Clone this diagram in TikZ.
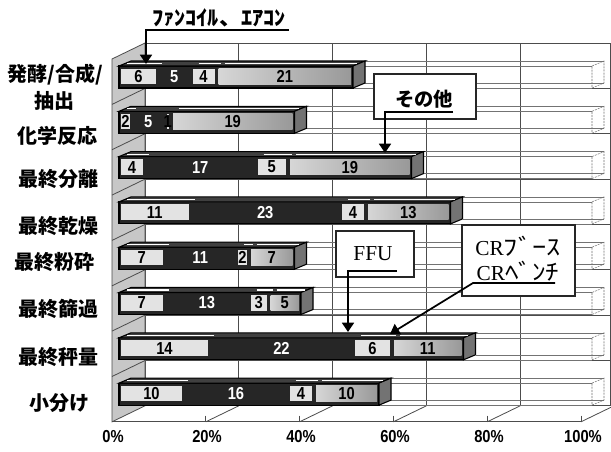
\documentclass[tikz,border=0pt]{standalone}
\usepackage{fontspec}
\usepackage{graphicx}
\usetikzlibrary{arrows.meta}
\newfontfamily\jpfont{Noto Sans CJK JP}
\newfontfamily\numfont{Liberation Sans}[FakeStretch=0.85]
\newfontfamily\serfont{Liberation Serif}

\tikzset{
  wallgrid/.style={draw=black!70, line width=0.6},
  sidewall/.style={draw=black!70, line width=0.6, fill=black!22},
  ghost/.style={draw=black!55, line width=0.4},
  ghostend/.style={draw=black!55, line width=0.4, dash pattern=on 1.5pt off 0.8pt},
  darkbar/.style={draw=black, line width=0.8, fill=black!85},
  darktop/.style={draw=black, line width=0.8, fill=black!75},
  darkside/.style={draw=black, line width=0.8, fill=black!55},
  litebox/.style={fill=black!11},
  restbox/.style={left color=black!16, right color=black!40},
  hilite/.style={draw=white, line width=0.8},
  numdark/.style={font=\numfont\bfseries\fontsize{13}{13}\selectfont, text=white, inner sep=0},
  numlite/.style={font=\numfont\bfseries\fontsize{13}{13}\selectfont, text=black, inner sep=0},
  rowlbl/.style={font=\jpfont\bfseries\fontsize{15}{18}\selectfont, inner sep=0},
  pctlbl/.style={font=\numfont\bfseries\fontsize{13}{13}\selectfont, inner sep=0},
  calltxt/.style={font=\jpfont\bfseries\fontsize{15.5}{17}\selectfont, inner sep=0},
  crtxt/.style={font=\serfont\fontsize{16}{19}\selectfont, inner sep=0, align=center},
  callbox/.style={draw=black!85, line width=1.1, fill=white},
  callline/.style={draw=black, line width=1.3},
  callarrow/.style={callline, -{Triangle[length=7pt,width=9pt]}},
}

\begin{document}
\begin{tikzpicture}[x=0.75pt,y=0.75pt,yscale=-1,xscale=1]
\useasboundingbox (0,0) rectangle (611,451);
\clip (0,0) rectangle (611,451);
\fill[white] (0,0) rectangle (611,451);

%Shape: Back wall grid
\draw[wallgrid] (145,43) -- (145,405.8);
\draw[wallgrid] (238.8,43) -- (238.8,405.8);
\draw[wallgrid] (332.6,43) -- (332.6,405.8);
\draw[wallgrid] (426.4,43) -- (426.4,405.8);
\draw[wallgrid] (520.2,43) -- (520.2,405.8);
\draw[wallgrid] (610,43) -- (610,405.8);
\draw[wallgrid] (145,43) -- (611,43);
\draw[wallgrid] (145,88.4) -- (611,88.4);
\draw[wallgrid] (145,133.7) -- (611,133.7);
\draw[wallgrid] (145,179.1) -- (611,179.1);
\draw[wallgrid] (145,224.4) -- (611,224.4);
\draw[wallgrid] (145,269.8) -- (611,269.8);
\draw[wallgrid] (145,315.1) -- (611,315.1);
\draw[wallgrid] (145,360.5) -- (611,360.5);
\draw[wallgrid] (145,405.8) -- (611,405.8);

%Shape: Side wall
\draw[sidewall] (112,59) -- (145,43) -- (145,405.8) -- (112,421.8) -- cycle ;
\draw[wallgrid] (112,104.4) -- (145,88.4);
\draw[wallgrid] (112,149.7) -- (145,133.7);
\draw[wallgrid] (112,195.1) -- (145,179.1);
\draw[wallgrid] (112,240.4) -- (145,224.4);
\draw[wallgrid] (112,285.8) -- (145,269.8);
\draw[wallgrid] (112,331.1) -- (145,315.1);
\draw[wallgrid] (112,376.5) -- (145,360.5);

%Shape: Floor
\draw[wallgrid] (112,421.8) -- (581,421.8);
\draw[wallgrid] (205.8,421.8) -- (238.8,405.8);
\draw[wallgrid] (299.6,421.8) -- (332.6,405.8);
\draw[wallgrid] (393.4,421.8) -- (426.4,405.8);
\draw[wallgrid] (487.2,421.8) -- (520.2,405.8);
\draw[wallgrid] (581,421.8) -- (614,405.8);
\draw[wallgrid] (205.8,415.5) -- (205.8,421.8);
\draw[wallgrid] (299.6,415.5) -- (299.6,421.8);
\draw[wallgrid] (393.4,415.5) -- (393.4,421.8);
\draw[wallgrid] (487.2,415.5) -- (487.2,421.8);
\draw[wallgrid] (581,415.5) -- (581,421.8);

%Shape: Empty bars up to 100%
\draw[ghost] (353,66) -- (592,66) (353,88) -- (592,88) (365,61) -- (604,61) (365,83) -- (604,83);
\draw[ghostend] (592,66) -- (604,61) -- (604,83) -- (592,88) -- cycle ;
\draw[ghost] (294.5,111.3) -- (592,111.3) (294.5,133.3) -- (592,133.3) (306.5,106.3) -- (604,106.3) (306.5,128.3) -- (604,128.3);
\draw[ghostend] (592,111.3) -- (604,106.3) -- (604,128.3) -- (592,133.3) -- cycle ;
\draw[ghost] (411.5,156.6) -- (592,156.6) (411.5,178.6) -- (592,178.6) (423.5,151.6) -- (604,151.6) (423.5,173.6) -- (604,173.6);
\draw[ghostend] (592,156.6) -- (604,151.6) -- (604,173.6) -- (592,178.6) -- cycle ;
\draw[ghost] (450.5,201.9) -- (592,201.9) (450.5,223.9) -- (592,223.9) (462.5,196.9) -- (604,196.9) (462.5,218.9) -- (604,218.9);
\draw[ghostend] (592,201.9) -- (604,196.9) -- (604,218.9) -- (592,223.9) -- cycle ;
\draw[ghost] (294.5,247.2) -- (592,247.2) (294.5,269.2) -- (592,269.2) (306.5,242.2) -- (604,242.2) (306.5,264.2) -- (604,264.2);
\draw[ghostend] (592,247.2) -- (604,242.2) -- (604,264.2) -- (592,269.2) -- cycle ;
\draw[ghost] (301,292.5) -- (592,292.5) (301,314.5) -- (592,314.5) (313,287.5) -- (604,287.5) (313,309.5) -- (604,309.5);
\draw[ghostend] (592,292.5) -- (604,287.5) -- (604,309.5) -- (592,314.5) -- cycle ;
\draw[ghost] (463.5,337.8) -- (592,337.8) (463.5,359.8) -- (592,359.8) (475.5,332.8) -- (604,332.8) (475.5,354.8) -- (604,354.8);
\draw[ghostend] (592,337.8) -- (604,332.8) -- (604,354.8) -- (592,359.8) -- cycle ;
\draw[ghost] (379,383.1) -- (592,383.1) (379,405.1) -- (592,405.1) (391,378.1) -- (604,378.1) (391,400.1) -- (604,400.1);
\draw[ghostend] (592,383.1) -- (604,378.1) -- (604,400.1) -- (592,405.1) -- cycle ;

%Shape: Bar 発酵/合成/抽出
\draw[darkbar] (119,66) rectangle (353,88);
\draw[darktop] (119,66) -- (131,61) -- (365,61) -- (353,66) -- cycle ;
\draw[darkside] (353,66) -- (365,61) -- (365,83) -- (353,88) -- cycle ;
\fill[litebox] (121,68.5) rectangle (156,84);
\fill[litebox] (192.5,68.5) rectangle (214.5,84);
\path[restbox] (218.5,68.5) rectangle (351,84);
\draw[hilite] (127,63.5) -- (162,63.5) (198.5,63.5) -- (220.5,63.5) (224.5,63.5) -- (357,63.5);
% Text Node
\node[numlite] (v1a) at (138.5,76.5) {6};
\node[numdark] (v1b) at (174.25,76.5) {5};
\node[numlite] (v1c) at (203.5,76.5) {4};
\node[numlite] (v1d) at (284.75,76.5) {21};

%Shape: Bar 化学反応
\draw[darkbar] (119,111.3) rectangle (294.5,133.3);
\draw[darktop] (119,111.3) -- (131,106.3) -- (306.5,106.3) -- (294.5,111.3) -- cycle ;
\draw[darkside] (294.5,111.3) -- (306.5,106.3) -- (306.5,128.3) -- (294.5,133.3) -- cycle ;
\fill[litebox] (121,113.8) rectangle (130,129.3);
\fill[litebox] (166.5,113.8) rectangle (169,129.3);
\path[restbox] (173,113.8) rectangle (292.5,129.3);
\draw[hilite] (127,108.8) -- (136,108.8) (179,108.8) -- (298.5,108.8);
% Text Node
\node[numlite] (v2a) at (125.5,121.8) {2};
\node[numdark] (v2b) at (148.25,121.8) {5};
\node[numlite] (v2c) at (167.75,121.8) {1};
\node[numlite] (v2d) at (232.75,121.8) {19};

%Shape: Bar 最終分離
\draw[darkbar] (119,156.6) rectangle (411.5,178.6);
\draw[darktop] (119,156.6) -- (131,151.6) -- (423.5,151.6) -- (411.5,156.6) -- cycle ;
\draw[darkside] (411.5,156.6) -- (423.5,151.6) -- (423.5,173.6) -- (411.5,178.6) -- cycle ;
\fill[litebox] (121,159.1) rectangle (143,174.6);
\fill[litebox] (257.5,159.1) rectangle (286,174.6);
\path[restbox] (290,159.1) rectangle (409.5,174.6);
\draw[hilite] (127,154.1) -- (149,154.1) (263.5,154.1) -- (292,154.1) (296,154.1) -- (415.5,154.1);
% Text Node
\node[numlite] (v3a) at (132,167.1) {4};
\node[numdark] (v3b) at (200.25,167.1) {17};
\node[numlite] (v3c) at (271.75,167.1) {5};
\node[numlite] (v3d) at (349.75,167.1) {19};

%Shape: Bar 最終乾燥
\draw[darkbar] (119,201.9) rectangle (450.5,223.9);
\draw[darktop] (119,201.9) -- (131,196.9) -- (462.5,196.9) -- (450.5,201.9) -- cycle ;
\draw[darkside] (450.5,201.9) -- (462.5,196.9) -- (462.5,218.9) -- (450.5,223.9) -- cycle ;
\fill[litebox] (121,204.4) rectangle (188.5,219.9);
\fill[litebox] (342,204.4) rectangle (364,219.9);
\path[restbox] (368,204.4) rectangle (448.5,219.9);
\draw[hilite] (127,199.4) -- (194.5,199.4) (348,199.4) -- (370,199.4) (374,199.4) -- (454.5,199.4);
% Text Node
\node[numlite] (v4a) at (154.75,212.4) {11};
\node[numdark] (v4b) at (265.25,212.4) {23};
\node[numlite] (v4c) at (353,212.4) {4};
\node[numlite] (v4d) at (408.25,212.4) {13};

%Shape: Bar 最終粉砕
\draw[darkbar] (119,247.2) rectangle (294.5,269.2);
\draw[darktop] (119,247.2) -- (131,242.2) -- (306.5,242.2) -- (294.5,247.2) -- cycle ;
\draw[darkside] (294.5,247.2) -- (306.5,242.2) -- (306.5,264.2) -- (294.5,269.2) -- cycle ;
\fill[litebox] (121,249.7) rectangle (162.5,265.2);
\fill[litebox] (238,249.7) rectangle (247,265.2);
\path[restbox] (251,249.7) rectangle (292.5,265.2);
\draw[hilite] (127,244.7) -- (168.5,244.7) (244,244.7) -- (253,244.7) (257,244.7) -- (298.5,244.7);
% Text Node
\node[numlite] (v5a) at (141.75,257.7) {7};
\node[numdark] (v5b) at (200.25,257.7) {11};
\node[numlite] (v5c) at (242.5,257.7) {2};
\node[numlite] (v5d) at (271.75,257.7) {7};

%Shape: Bar 最終篩過
\draw[darkbar] (119,292.5) rectangle (301,314.5);
\draw[darktop] (119,292.5) -- (131,287.5) -- (313,287.5) -- (301,292.5) -- cycle ;
\draw[darkside] (301,292.5) -- (313,287.5) -- (313,309.5) -- (301,314.5) -- cycle ;
\fill[litebox] (121,295) rectangle (162.5,310.5);
\fill[litebox] (251,295) rectangle (266.5,310.5);
\path[restbox] (270.5,295) rectangle (299,310.5);
\draw[hilite] (127,290) -- (168.5,290) (257,290) -- (272.5,290) (276.5,290) -- (305,290);
% Text Node
\node[numlite] (v6a) at (141.75,303) {7};
\node[numdark] (v6b) at (206.75,303) {13};
\node[numlite] (v6c) at (258.75,303) {3};
\node[numlite] (v6d) at (284.75,303) {5};

%Shape: Bar 最終秤量
\draw[darkbar] (119,337.8) rectangle (463.5,359.8);
\draw[darktop] (119,337.8) -- (131,332.8) -- (475.5,332.8) -- (463.5,337.8) -- cycle ;
\draw[darkside] (463.5,337.8) -- (475.5,332.8) -- (475.5,354.8) -- (463.5,359.8) -- cycle ;
\fill[litebox] (121,340.3) rectangle (208,355.8);
\fill[litebox] (355,340.3) rectangle (390,355.8);
\path[restbox] (394,340.3) rectangle (461.5,355.8);
\draw[hilite] (127,335.3) -- (214,335.3) (361,335.3) -- (396,335.3) (400,335.3) -- (467.5,335.3);
% Text Node
\node[numlite] (v7a) at (164.5,348.3) {14};
\node[numdark] (v7b) at (281.5,348.3) {22};
\node[numlite] (v7c) at (372.5,348.3) {6};
\node[numlite] (v7d) at (427.75,348.3) {11};

%Shape: Bar 小分け
\draw[darkbar] (119,383.1) rectangle (379,405.1);
\draw[darktop] (119,383.1) -- (131,378.1) -- (391,378.1) -- (379,383.1) -- cycle ;
\draw[darkside] (379,383.1) -- (391,378.1) -- (391,400.1) -- (379,405.1) -- cycle ;
\fill[litebox] (121,385.6) rectangle (182,401.1);
\fill[litebox] (290,385.6) rectangle (312,401.1);
\path[restbox] (316,385.6) rectangle (377,401.1);
\draw[hilite] (127,380.6) -- (188,380.6) (296,380.6) -- (318,380.6) (322,380.6) -- (383,380.6);
% Text Node
\node[numlite] (v8a) at (151.5,393.6) {10};
\node[numdark] (v8b) at (236,393.6) {16};
\node[numlite] (v8c) at (301,393.6) {4};
\node[numlite] (v8d) at (346.5,393.6) {10};

% Text Node
\node[rowlbl] (cat1) at (55,75) {発酵/合成/};
\node[rowlbl] (cat1b) at (54,101) {抽出};
\node[rowlbl] (cat2) at (57,136) {化学反応};
\node[rowlbl] (cat3) at (58,179) {最終分離};
\node[rowlbl] (cat4) at (58,226) {最終乾燥};
\node[rowlbl] (cat5) at (55,262) {最終粉砕};
\node[rowlbl] (cat6) at (58,309) {最終篩過};
\node[rowlbl] (cat7) at (58,357) {最終秤量};
\node[rowlbl] (cat8) at (59,403) {小分け};

% Text Node
\node[pctlbl] (pct0) at (113,437) {0\%};
\node[pctlbl] (pct20) at (207,437) {20\%};
\node[pctlbl] (pct40) at (301,437) {40\%};
\node[pctlbl] (pct60) at (395,437) {60\%};
\node[pctlbl] (pct80) at (489,437) {80\%};
\node[pctlbl] (pct100) at (583,437) {100\%};

%Shape: Callout boxes
\draw[callbox] (374,74) rectangle (476,119);
\draw[callbox] (336,231) rectangle (414,277);
\draw[callbox] (462,225) rectangle (575,296);

% Text Node
\node[calltxt] (fancoil) at (219,18) {\scalebox{1.08}[1]{ﾌｧﾝｺｲﾙ、ｴｱｺﾝ}};
\node[calltxt, font=\jpfont\bfseries\fontsize{14.5}{16}\selectfont] (other) at (424,99) {その他};
\node[crtxt] (ffu) at (373,254) {FFU};
\node[crtxt] (crbooth) at (518,259) {CR{\jpfont\fontsize{17}{19}\selectfont\scalebox{1.25}[1]{ﾌﾞｰｽ}}\\CR{\jpfont\fontsize{17}{19}\selectfont\scalebox{1.2}[1]{ﾍﾞﾝﾁ}}};

%Shape: Callout connectors
\coordinate (fancoilend) at (289,30);
\coordinate (fancoilul) at (146,30);
\coordinate (fancoiltip) at (146,64);
\draw[callarrow] (fancoilend) -- (fancoilul) -- (fancoiltip);
\coordinate (otherend) at (453,112);
\coordinate (otherul) at (385,112);
\coordinate (othertip) at (385,153);
\draw[callarrow] (otherend) -- (otherul) -- (othertip);
\coordinate (ffuend) at (397,271);
\coordinate (fful) at (348,271);
\coordinate (ffutip) at (348,332);
\draw[callarrow] (ffuend) -- (fful) -- (ffutip);
\coordinate (crend) at (555,283);
\coordinate (crul) at (473,283);
\coordinate (crtip) at (390,334);
\draw[callarrow] (crend) -- (crul) -- (crtip);

\end{tikzpicture}
\end{document}
